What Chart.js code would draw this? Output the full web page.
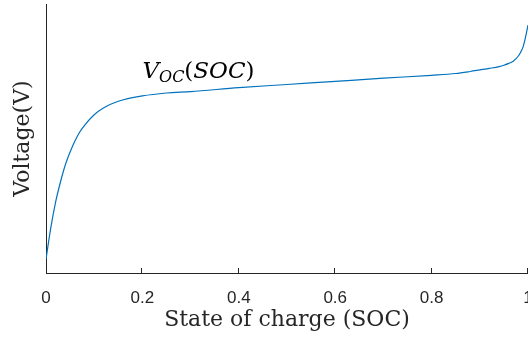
<!DOCTYPE html>
<html>
<head>
<meta charset="utf-8">
<script src="https://cdn.jsdelivr.net/npm/chart.js@4.4.1/dist/chart.umd.min.js"></script>
<style>
  html, body { margin: 0; padding: 0; background: #fff; overflow: hidden; }
  #wrap { width: 528px; height: 340px; }
</style>
</head>
<body>
<div id="wrap"><canvas id="myChart" width="528" height="340"></canvas></div>
<script>

// state of charge samples (x) and open circuit voltage (y)
const soc = [0, 0.01, 0.02, 0.03, 0.04, 0.05, 0.06, 0.07, 0.08, 0.10, 0.12, 0.15, 0.20, 0.25, 0.30,
             0.40, 0.50, 0.60, 0.70, 0.80, 0.85, 0.88, 0.90, 0.92, 0.94, 0.95, 0.96, 0.97, 0.98,
             0.985, 0.99, 0.995, 1.0];
const voc = [3.062, 3.202, 3.317, 3.406, 3.482, 3.540, 3.589, 3.629, 3.659, 3.706, 3.737, 3.766, 3.790, 3.803, 3.809,
             3.827, 3.841, 3.855, 3.869, 3.882, 3.890, 3.899, 3.906, 3.913, 3.921, 3.927, 3.935, 3.946, 3.968,
             3.986, 4.010, 4.053, 4.106];

const xTicks = [0, 0.2, 0.4, 0.6, 0.8, 1];
const xLabel = 'State of charge (SOC)';
const yLabel = 'Voltage(V)';
const yMin = 3.0;
const yMax = 4.2;

// where the curve label sits (data coords)
const noteX = 0.2;
const noteY = 3.87;

const axisColor = '#262626';
const lineColor = '#0072BD';

let points = [];
for (let i = 0; i < soc.length; i++) {
    points.push({ x: soc[i], y: voc[i] });
}

// small inward tick marks on the x axis
const innerTicks = {
    id: 'innerTicks',
    afterDraw(chart) {
        const ctx = chart.ctx;
        const xs = chart.scales.x;
        const bottom = chart.chartArea.bottom;
        ctx.save();
        ctx.strokeStyle = axisColor;
        ctx.lineWidth = 1;
        ctx.beginPath();
        for (let i = 1; i < xTicks.length; i++) {
            let px = Math.round(xs.getPixelForValue(xTicks[i])) - 0.5;
            ctx.moveTo(px, bottom);
            ctx.lineTo(px, bottom - 5);
        }
        ctx.stroke();
        ctx.restore();
    }
};

// V_OC(SOC) text next to the curve
const curveNote = {
    id: 'curveNote',
    afterDraw(chart) {
        const ctx = chart.ctx;
        let x = chart.scales.x.getPixelForValue(noteX);
        const y = chart.scales.y.getPixelForValue(noteY);
        ctx.save();
        ctx.fillStyle = '#000';
        ctx.textBaseline = 'alphabetic';
        ctx.textAlign = 'left';

        const pieces = [
            ['italic 23px "DejaVu Serif"', 'V', 0],
            ['italic 16px "DejaVu Serif"', 'OC', 4],
            ['23px "DejaVu Serif"', '(', 0],
            ['italic 23px "DejaVu Serif"', 'SOC', 0],
            ['23px "DejaVu Serif"', ')', 0]
        ];
        for (let i = 0; i < pieces.length; i++) {
            ctx.font = pieces[i][0];
            ctx.fillText(pieces[i][1], x, y + pieces[i][2]);
            x += ctx.measureText(pieces[i][1]).width;
        }
        ctx.restore();
    }
};

new Chart(document.getElementById('myChart'), {
    type: 'line',
    data: {
        datasets: [{
            data: points,
            borderColor: lineColor,
            borderWidth: 1.2,
            pointRadius: 0,
            fill: false,
            cubicInterpolationMode: 'monotone'
        }]
    },
    options: {
        responsive: false,
        animation: false,
        devicePixelRatio: 1,
        layout: { padding: { top: 4, left: 0, right: 0, bottom: 0 } },
        plugins: {
            legend: { display: false },
            tooltip: { enabled: false }
        },
        scales: {
            x: {
                type: 'linear',
                min: 0,
                max: 1,
                grid: { display: false, drawTicks: false },
                border: { display: true, color: axisColor, width: 1 },
                ticks: {
                    stepSize: 0.2,
                    padding: 15,
                    maxRotation: 0,
                    color: axisColor,
                    font: { family: '"Liberation Sans", Arial, sans-serif', size: 17 },
                    callback: (v) => String(Number(v.toFixed(1)))
                },
                title: {
                    display: true,
                    text: xLabel,
                    color: axisColor,
                    font: { family: '"DejaVu Serif", serif', size: 22 },
                    padding: { top: 0, bottom: 7 }
                },
                afterFit(scale) {
                    scale.paddingLeft = 0;
                    scale.paddingRight = 0;
                    scale.height = 67;
                }
            },
            y: {
                min: yMin,
                max: yMax,
                grid: { display: false, drawTicks: false },
                border: { display: true, color: axisColor, width: 1 },
                ticks: { display: false },
                title: {
                    display: true,
                    text: yLabel,
                    color: axisColor,
                    font: { family: '"DejaVu Serif", serif', size: 22 },
                    padding: { top: 10, bottom: 0 }
                },
                afterFit(scale) {
                    scale.paddingTop = 0;
                    scale.paddingBottom = 0;
                    scale.width = 46;
                }
            }
        }
    },
    plugins: [innerTicks, curveNote]
});

</script>
</body>
</html>
